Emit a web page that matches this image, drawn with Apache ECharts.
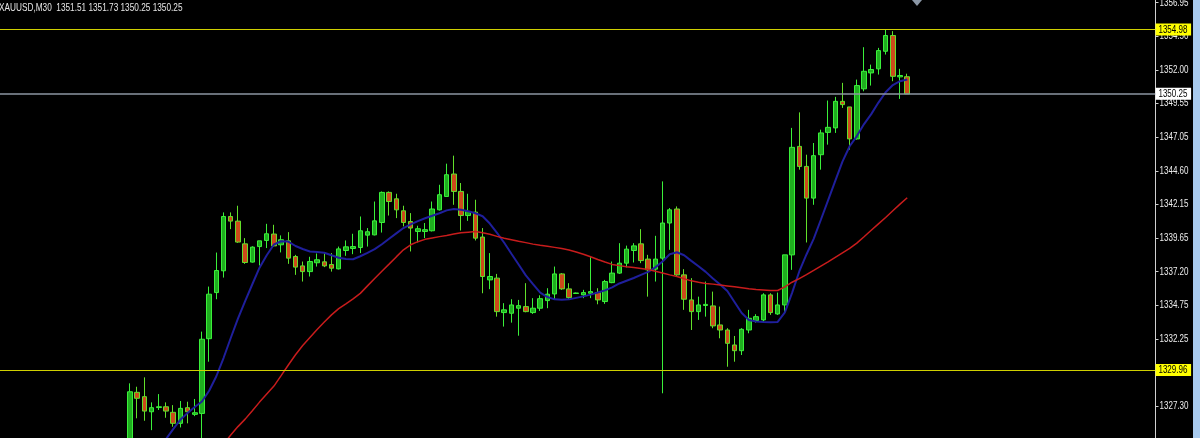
<!DOCTYPE html>
<html><head><meta charset="utf-8">
<script src="https://cdn.jsdelivr.net/npm/echarts@6/dist/echarts.min.js"></script>
<style>html,body{margin:0;padding:0;background:#000;}#c{width:1200px;height:438px;}</style>
</head><body><div id="c"></div>
<script>
const symbol = 'XAUUSD', timeframe = 'M30';

const opens = [
1324.50,1328.32,1328.00,1326.89,1327.20,1327.26,1326.85,1326.04,1327.19,1326.70,
1326.77,1332.26,1335.65,1337.25,1341.24,1340.90,1339.23,1337.89,1339.03,1339.48,
1339.95,1339.16,1339.45,1338.30,1337.61,1337.19,1337.84,1337.91,1337.71,1337.39,
1338.74,1338.89,1338.96,1339.87,1339.89,1340.80,1343.01,1342.54,1341.66,1340.87,
1340.14,1340.14,1340.19,1341.73,1342.71,1344.36,1343.08,1341.31,1341.56,1339.73,
1336.58,1336.71,1334.18,1334.13,1334.50,1334.62,1334.18,1334.50,1335.06,1335.55,
1337.02,1335.92,1335.58,1335.48,1335.60,1335.65,1334.99,1336.38,1337.08,1337.81,
1338.74,1339.23,1338.11,1337.37,1338.18,1340.76,1341.79,1336.95,1335.11,1334.25,
1334.70,1334.67,1333.27,1332.90,1331.80,1331.38,1332.90,1333.59,1333.64,1335.48,
1334.08,1334.74,1338.42,1346.39,1344.92,1342.59,1345.78,1347.42,1347.75,1349.70,
1349.29,1346.94,1350.62,1351.79,1352.09,1353.38,1354.54,1351.50,1351.51];

const highs = [
1328.98,1328.73,1329.42,1327.58,1328.19,1327.58,1327.38,1327.68,1327.63,1327.83,
1332.78,1336.09,1338.59,1341.54,1341.54,1342.03,1339.65,1339.05,1339.45,1340.70,
1340.63,1339.85,1340.09,1338.42,1337.93,1338.28,1338.52,1338.59,1338.55,1339.03,
1339.48,1339.97,1341.24,1340.39,1342.34,1343.08,1343.08,1342.91,1342.03,1341.49,
1340.56,1340.76,1342.34,1343.57,1345.12,1345.71,1343.70,1342.91,1342.47,1340.39,
1338.55,1337.02,1334.87,1335.16,1335.11,1336.34,1335.24,1335.45,1335.97,1337.56,
1337.08,1336.34,1335.65,1335.85,1338.25,1335.97,1336.58,1337.93,1339.28,1339.10,
1339.28,1340.31,1338.42,1339.82,1343.82,1341.86,1341.98,1337.37,1336.71,1335.35,
1336.46,1335.72,1334.62,1333.03,1332.46,1333.03,1334.38,1334.06,1335.60,1335.60,
1335.65,1338.42,1347.75,1348.89,1345.78,1346.64,1347.62,1349.76,1350.03,1351.06,
1349.29,1351.30,1353.68,1352.40,1353.63,1354.98,1354.86,1352.09,1351.73];

const lows = [
1324.30,1326.41,1326.23,1325.54,1327.02,1326.45,1325.79,1325.74,1326.04,1326.57,
1324.70,1330.57,1335.16,1336.75,1340.31,1339.30,1337.76,1337.85,1337.64,1338.92,
1339.03,1338.60,1337.76,1336.95,1336.46,1336.83,1337.56,1337.52,1337.19,1337.35,
1338.35,1338.47,1338.55,1339.03,1339.85,1340.06,1341.31,1341.12,1340.51,1338.67,
1339.33,1339.65,1340.14,1341.68,1342.70,1342.10,1340.21,1340.92,1339.48,1335.60,
1335.90,1333.88,1333.15,1333.44,1332.48,1334.20,1334.08,1334.30,1334.50,1335.16,
1335.85,1335.11,1335.55,1335.24,1335.24,1334.79,1334.82,1336.34,1337.02,1337.50,
1337.86,1337.81,1335.35,1336.46,1328.25,1338.79,1336.83,1334.38,1332.90,1333.64,
1333.88,1333.03,1332.29,1330.20,1330.57,1331.06,1332.66,1333.44,1333.52,1334.01,
1334.01,1334.13,1337.32,1344.68,1339.33,1342.10,1344.68,1346.52,1347.38,1349.22,
1346.15,1346.89,1350.44,1350.86,1351.67,1353.14,1351.18,1349.88,1350.25];

const closes = [
1328.36,1327.88,1326.94,1327.19,1327.26,1326.94,1326.04,1327.14,1326.89,1326.82,
1332.22,1335.53,1337.27,1341.24,1340.90,1339.36,1337.86,1338.99,1339.45,1339.97,
1339.08,1339.53,1338.18,1337.52,1337.19,1337.93,1338.06,1337.61,1337.44,1338.86,
1339.01,1339.03,1340.19,1340.12,1340.92,1343.01,1342.34,1341.73,1340.80,1340.39,
1340.34,1340.27,1341.79,1342.84,1344.31,1343.08,1341.31,1341.61,1339.65,1336.83,
1336.83,1334.25,1334.38,1334.74,1334.69,1334.25,1334.50,1335.20,1335.53,1337.02,
1335.92,1335.28,1335.62,1335.65,1335.72,1335.11,1336.46,1337.08,1337.81,1338.84,
1339.08,1338.00,1337.32,1338.11,1340.76,1341.73,1336.95,1335.16,1334.25,1334.74,
1334.78,1333.20,1332.90,1331.92,1331.38,1332.95,1333.76,1333.88,1335.48,1334.18,
1334.74,1338.42,1346.32,1344.92,1342.59,1345.71,1347.38,1347.79,1349.70,1349.46,
1346.94,1350.86,1351.91,1352.04,1353.43,1354.54,1351.54,1351.60,1350.25];

const blueMA = [
null,null,null,null,1324.22,1324.88,1325.62,1326.31,1326.80,1327.24,
1327.64,1328.44,1329.50,1330.84,1332.31,1333.74,1335.02,1336.26,1337.48,1338.39,
1339.18,1339.42,1339.40,1339.07,1338.85,1338.67,1338.63,1338.58,1338.39,1338.21,
1338.11,1338.10,1338.32,1338.57,1338.84,1339.20,1339.60,1340.00,1340.39,1340.66,
1340.90,1341.11,1341.29,1341.48,1341.69,1341.79,1341.73,1341.63,1341.48,1341.26,
1340.72,1340.04,1339.31,1338.50,1337.71,1336.91,1336.27,1335.64,1335.32,1335.15,
1335.13,1335.15,1335.26,1335.37,1335.50,1335.65,1335.81,1336.03,1336.32,1336.52,
1336.72,1336.95,1337.17,1337.50,1337.93,1338.46,1338.61,1338.39,1337.98,1337.58,
1337.17,1336.69,1336.25,1335.77,1334.96,1334.15,1333.64,1333.52,1333.48,1333.46,
1333.49,1334.19,1335.63,1337.20,1338.45,1339.60,1341.00,1342.43,1343.85,1345.27,
1346.40,1347.15,1348.03,1348.76,1349.61,1350.37,1350.90,1351.18,1351.30];

const redMA = [
null,null,null,null,null,null,null,null,null,null,
null,null,null,1324.51,1325.18,1325.80,1326.35,1326.97,1327.60,1328.19,
1328.78,1329.55,1330.33,1331.08,1331.76,1332.35,1332.94,1333.49,1334.01,1334.47,
1334.82,1335.18,1335.59,1336.14,1336.69,1337.22,1337.74,1338.27,1338.79,1339.16,
1339.39,1339.56,1339.66,1339.76,1339.85,1339.95,1340.04,1340.09,1340.13,1340.04,
1339.93,1339.78,1339.64,1339.53,1339.42,1339.32,1339.21,1339.12,1339.05,1338.97,
1338.88,1338.78,1338.63,1338.47,1338.28,1338.08,1337.89,1337.72,1337.63,1337.55,
1337.49,1337.42,1337.34,1337.22,1337.09,1336.95,1336.83,1336.66,1336.51,1336.41,
1336.32,1336.27,1336.21,1336.14,1336.07,1336.00,1335.93,1335.88,1335.84,1335.80,
1335.80,1336.07,1336.41,1336.68,1336.97,1337.28,1337.60,1337.91,1338.24,1338.57,
1338.89,1339.28,1339.75,1340.23,1340.70,1341.17,1341.66,1342.15,1342.62];

const levelLines = [1354.98, 1329.96];
const tickValues = [1356.95,1354.50,1352.00,1349.55,1347.05,1344.60,1342.15,1339.65,1337.20,1334.75,1332.25,1327.30];

// ---- layout / style ----
const FONT = "'Liberation Sans',Arial,sans-serif";
const W = 1200;
const GRID_LEFT = -3.14, GRID_RIGHT = 44.5;
const LEAD = 18, SLOTS = 161;
const SQUEEZE = 0.73;          // narrow the terminal-style text horizontally
const categories = Array.from({length: SLOTS}, (_, k) => 'bar' + k);
const last = closes.length - 1;
const candleData = opens.map((o, i) => [LEAD + i, o, closes[i], lows[i], highs[i]]);
const toLine = arr => arr.map((v, i) => v == null ? null : [LEAD + i, v]).filter(Boolean);
const f2 = v => Number(v).toFixed(2);

const chart = echarts.init(document.getElementById('c'), null, {renderer: 'canvas'});
chart.setOption({
  backgroundColor: '#000000',
  animation: false,
  grid: {left: GRID_LEFT, right: GRID_RIGHT, top: 0, bottom: 0, containLabel: false, outerBoundsMode: 'none'},
  xAxis: {type: 'category', data: categories, show: false, boundaryGap: true},
  yAxis: {
    type: 'value', position: 'right', min: 1324.963, max: 1357.148,
    axisLine: {show: true, onZero: false, lineStyle: {color: '#d0d0d0', width: 1}},
    axisTick: {show: true, length: 3, customValues: tickValues, lineStyle: {color: '#d0d0d0'}},
    axisLabel: {show: false},
    splitLine: {show: false}
  },
  series: [
    {
      type: 'candlestick', data: candleData, encode: {x: 0, y: [1, 2, 3, 4]},
      barWidth: 5, z: 2, silent: true,
      itemStyle: {color: '#1fae1f', color0: '#cc4a1a', borderColor: '#3af03a', borderColor0: '#62e02a', borderWidth: 1},
      markLine: {
        silent: true, symbol: 'none', animation: false, label: {show: false},
        data: [
          ...levelLines.map(v => ({yAxis: v, lineStyle: {color: '#d0d000', width: 1.2, type: 'solid'}})),
          {yAxis: closes[last], lineStyle: {color: '#8c96a2', width: 1.5, type: 'solid'}}
        ]
      }
    },
    {type: 'line', data: toLine(blueMA), showSymbol: false, symbol: 'none', z: 3, silent: true,
     lineStyle: {color: '#1f1f9c', width: 2}},
    {type: 'line', data: toLine(redMA), showSymbol: false, symbol: 'none', z: 3, silent: true,
     lineStyle: {color: '#c81c1c', width: 1.5}}
  ]
});

// texts placed through the value axis scale
const axisX = W - GRID_RIGHT;
const yPix = v => chart.convertToPixel({yAxisIndex: 0}, v);
const graphics = [];
tickValues.forEach(v => graphics.push({
  type: 'text', x: axisX + 4, y: yPix(v), scaleX: SQUEEZE, z: 50, silent: true,
  style: {text: f2(v), fill: '#ececec', font: `11px ${FONT}`, verticalAlign: 'middle', align: 'left'}
}));
levelLines.forEach(v => graphics.push({
  type: 'text', x: axisX, y: yPix(v), scaleX: SQUEEZE, z: 100, silent: true,
  style: {text: f2(v), fill: '#000', backgroundColor: '#ffff00', padding: [1, 5, 0, 4], lineHeight: 11,
          font: `11px ${FONT}`, verticalAlign: 'middle', align: 'left'}
}));
graphics.push({
  type: 'text', x: axisX, y: yPix(closes[last]), scaleX: SQUEEZE, z: 100, silent: true,
  style: {text: f2(closes[last]), fill: '#000', backgroundColor: '#ffffff', padding: [1, 5, 0, 4], lineHeight: 11,
          font: `11px ${FONT}`, verticalAlign: 'middle', align: 'left'}
});
graphics.push({
  type: 'text', x: -1, y: 8, scaleX: 0.75, z: 100, silent: true,
  style: {text: `${symbol},${timeframe}  ${f2(opens[last])} ${f2(highs[last])} ${f2(lows[last])} ${f2(closes[last])}`,
          fill: '#e6e6e6', font: `11px ${FONT}`, verticalAlign: 'middle', align: 'left'}
});
graphics.push({type: 'rect', right: 0, top: 0, z: 120, silent: true, shape: {width: 7, height: 438}, style: {fill: '#a8caee'}});
graphics.push({type: 'polygon', z: 120, silent: true, shape: {points: [[912, 0], [922, 0], [917, 6]]}, style: {fill: '#8b97a6'}});
chart.setOption({graphic: graphics});
</script>
</body></html>
